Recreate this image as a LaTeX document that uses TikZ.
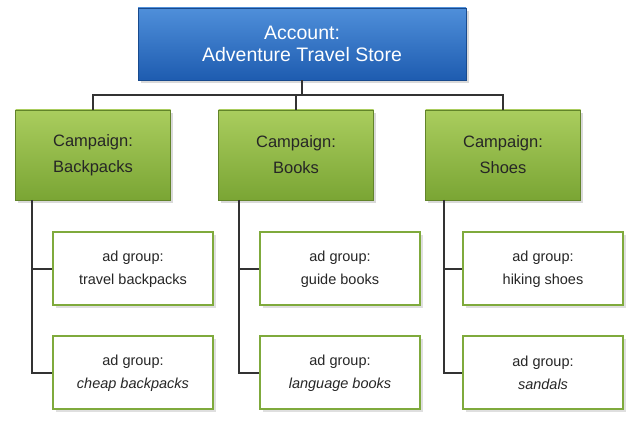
\documentclass[tikz,border=0pt]{standalone}
\usepackage{fontspec}
\setmainfont{Liberation Sans}
\usetikzlibrary{shadows}
\definecolor{bluetop}{HTML}{4F8FDA}
\definecolor{bluebot}{HTML}{1E5CB0}
\definecolor{gtop}{HTML}{AACD5E}
\definecolor{gbot}{HTML}{7AA534}
\definecolor{gborder}{HTML}{7FAA3C}
\begin{document}
\begin{tikzpicture}[x=1pt,y=-1pt,
  acc/.style={draw=bluebot!80!black,top color=bluetop,bottom color=bluebot,text=white,font=\fontsize{19.5}{22}\selectfont,align=center,minimum width=328pt,minimum height=72pt,inner sep=0pt,drop shadow={opacity=0.3}},
  camp/.style={draw=gbot!80!black,top color=gtop,bottom color=gbot,text=black!85,font=\fontsize{16.5}{26}\selectfont,align=center,minimum width=155pt,minimum height=90pt,inner sep=0pt,drop shadow={opacity=0.3}},
  adg/.style={draw=gborder,line width=2pt,fill=white,text=black!85,font=\fontsize{14.5}{23}\selectfont,align=center,minimum width=160pt,minimum height=73pt,inner sep=0pt,drop shadow={opacity=0.25}},
  conn/.style={draw=black!80,line width=1.2pt}]
\useasboundingbox (0,0) rectangle (643,430);
\node[acc] (acc) at (302,44) {Account:\\Adventure Travel Store};
\node[camp] (c1) at (93,155) {Campaign:\\Backpacks};
\node[camp] (c2) at (296,155) {Campaign:\\Books};
\node[camp] (c3) at (503,155) {Campaign:\\Shoes};
\node[adg] (a1) at (133,269) {ad group:\\travel backpacks};
\node[adg] (a2) at (133,373) {ad group:\\\textit{cheap backpacks}};
\node[adg] (a3) at (340,269) {ad group:\\guide books};
\node[adg] (a4) at (340,373) {ad group:\\\textit{language books}};
\node[adg] (a5) at (543,269) {ad group:\\hiking shoes};
\node[adg] (a6) at (543,373) {ad group:\\\textit{sandals}};
\coordinate (j) at (302,95);
\begin{scope}[on background layer/.try]
\draw[conn] (acc.south) -- (j);
\draw[conn] (c1.north) -- (93,95) -- (503,95) -- (c3.north);
\draw[conn] (296,95) -- (c2.north);
\foreach \c/\x/\a/\b in {c1/32/a1/a2,c2/239/a3/a4,c3/444/a5/a6}{
  \draw[conn] (\x,200) -- (\x,373) -- (\b.west);
  \draw[conn] (\x,269) -- (\a.west);
}
\end{scope}
\end{tikzpicture}
\end{document}
